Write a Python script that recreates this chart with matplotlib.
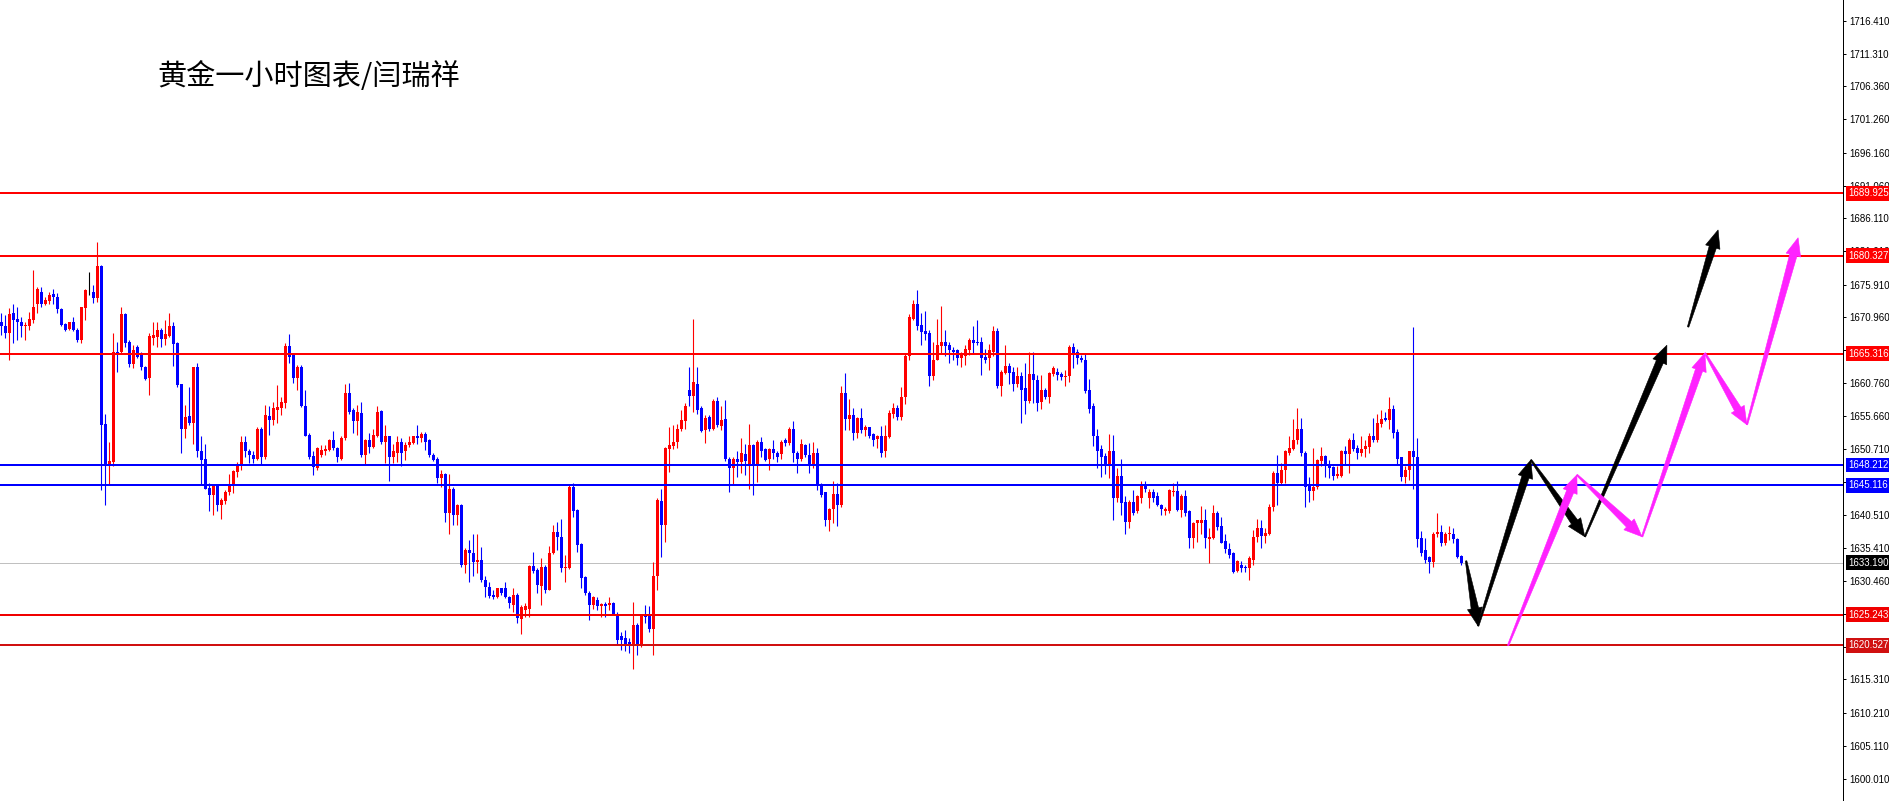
"""
Gold 1-hour candlestick chart with horizontal support / resistance levels
and two hand-drawn projected paths (black and magenta arrows).
"""
import numpy as np
import matplotlib
matplotlib.use("Agg")
import matplotlib.pyplot as plt
import matplotlib.transforms as mtransforms
from matplotlib.patches import Polygon

W_PX, H_PX, DPI = 1890, 801, 100
AXIS_RIGHT_PX = 1843          # price axis line
BAR_PX = 4                    # horizontal pitch of one candle

TITLE = "黄金一小时图表/闫瑞祥"

# hourly candles (oldest first)
OPENS = [
    1670.2, 1669.6, 1668.4, 1671.5, 1670.7, 1670.1, 1669.5, 1669.6, 1670.5, 1673.0,
    1674.8, 1672.9, 1673.4, 1674.5, 1674.0, 1672.1, 1669.9, 1669.1, 1670.1, 1668.9,
    1667.4, 1672.3, 1674.7, 1674.8, 1673.9, 1678.8, 1654.5, 1648.2, 1648.6, 1665.6,
    1665.6, 1671.4, 1667.1, 1663.7, 1666.4, 1665.4, 1663.3, 1661.5, 1667.7, 1667.9,
    1668.9, 1667.5, 1668.0, 1669.6, 1666.9, 1660.6, 1653.8, 1655.7, 1654.6, 1663.2,
    1650.4, 1649.1, 1644.7, 1643.6, 1645.0, 1642.1, 1642.7, 1644.0, 1645.1, 1647.2,
    1648.0, 1651.8, 1650.3, 1649.7, 1649.2, 1653.8, 1649.5, 1655.7, 1655.1, 1656.7,
    1656.9, 1657.8, 1666.5, 1665.1, 1661.5, 1663.3, 1657.3, 1652.8, 1649.6, 1647.7,
    1649.7, 1650.3, 1650.5, 1652.1, 1650.9, 1649.2, 1652.3, 1659.3, 1656.7, 1654.9,
    1656.2, 1649.7, 1652.0, 1651.0, 1652.7, 1656.5, 1651.8, 1652.6, 1649.5, 1650.1,
    1651.8, 1650.3, 1651.3, 1651.6, 1652.6, 1652.3, 1653.0, 1652.0, 1649.7, 1649.1,
    1646.2, 1646.8, 1640.8, 1644.6, 1640.5, 1642.1, 1632.9, 1635.2, 1634.7, 1633.4,
    1633.7, 1630.6, 1629.5, 1628.3, 1628.0, 1629.3, 1629.3, 1627.9, 1626.7, 1628.3,
    1624.5, 1625.9, 1626.1, 1632.7, 1632.1, 1629.6, 1632.6, 1629.0, 1634.7, 1638.0,
    1637.2, 1632.4, 1632.4, 1644.8, 1641.3, 1636.1, 1631.0, 1628.6, 1626.7, 1627.5,
    1626.5, 1626.9, 1626.7, 1627.0, 1625.4, 1621.9, 1621.6, 1621.1, 1620.7, 1623.7,
    1620.4, 1625.2, 1625.2, 1623.0, 1631.1, 1642.7, 1639.0, 1650.6, 1651.1, 1651.8,
    1653.7, 1655.0, 1659.7, 1658.8, 1660.6, 1656.9, 1653.6, 1655.6, 1653.7, 1658.1,
    1654.2, 1655.2, 1649.2, 1647.7, 1649.2, 1648.6, 1649.9, 1648.1, 1651.3, 1648.1,
    1651.8, 1650.6, 1649.1, 1650.6, 1650.1, 1649.9, 1652.0, 1651.6, 1653.7, 1650.1,
    1649.1, 1651.3, 1649.7, 1648.1, 1650.1, 1645.1, 1644.0, 1639.8, 1641.4, 1643.8,
    1642.1, 1659.2, 1655.2, 1655.9, 1653.1, 1655.4, 1653.6, 1654.0, 1653.0, 1652.2,
    1652.7, 1650.3, 1652.5, 1656.1, 1656.9, 1655.6, 1658.6, 1664.9, 1670.7, 1672.9,
    1669.7, 1668.8, 1668.5, 1661.9, 1664.3, 1666.5, 1667.1, 1666.6, 1665.9, 1665.8,
    1664.6, 1664.9, 1665.9, 1667.4, 1667.1, 1667.1, 1664.8, 1664.6, 1665.6, 1668.8,
    1660.3, 1662.4, 1663.4, 1662.5, 1660.7, 1661.9, 1660.0, 1658.1, 1662.2, 1661.3,
    1657.9, 1659.8, 1658.6, 1662.2, 1662.5, 1662.2, 1661.7, 1661.8, 1666.4, 1665.5,
    1664.6, 1664.4, 1659.7, 1657.3, 1652.6, 1650.6, 1649.6, 1648.4, 1650.3, 1643.1,
    1646.5, 1642.6, 1639.4, 1642.6, 1641.1, 1643.2, 1645.0, 1643.1, 1644.1, 1643.4,
    1642.1, 1641.2, 1641.2, 1644.1, 1644.3, 1641.3, 1643.5, 1641.1, 1637.0, 1639.3,
    1639.3, 1639.7, 1636.8, 1637.0, 1640.9, 1638.8, 1636.6, 1635.3, 1634.7, 1632.0,
    1632.9, 1632.6, 1632.4, 1633.7, 1637.1, 1638.5, 1637.3, 1637.7, 1641.7, 1647.0,
    1645.4, 1647.4, 1650.0, 1650.6, 1652.0, 1653.8, 1650.0, 1645.0, 1644.3, 1644.8,
    1648.9, 1649.6, 1648.2, 1647.9, 1646.5, 1646.5, 1650.3, 1649.9, 1652.0, 1650.8,
    1650.0, 1650.6, 1651.0, 1652.7, 1652.1, 1654.5, 1655.4, 1655.1, 1656.8, 1653.3,
    1649.4, 1646.3, 1647.4, 1650.3, 1649.5, 1637.0, 1635.2, 1634.1, 1633.4, 1637.6,
    1638.0, 1636.2, 1637.6, 1637.7, 1636.8, 1634.2,
]
CLOSES = [
    1669.5, 1668.4, 1671.4, 1670.5, 1670.1, 1669.5, 1669.7, 1670.6, 1672.5, 1675.2,
    1673.0, 1673.5, 1674.3, 1674.0, 1672.1, 1669.7, 1669.0, 1670.1, 1668.9, 1667.4,
    1672.4, 1675.0, 1674.7, 1673.8, 1678.8, 1654.4, 1648.2, 1648.9, 1665.6, 1665.4,
    1671.4, 1666.9, 1663.7, 1665.9, 1664.8, 1663.3, 1661.4, 1668.0, 1668.2, 1668.9,
    1667.5, 1668.3, 1669.6, 1666.8, 1660.5, 1653.8, 1655.6, 1654.6, 1663.2, 1650.4,
    1649.0, 1644.6, 1643.6, 1645.0, 1642.1, 1642.8, 1644.1, 1645.1, 1647.3, 1648.2,
    1651.8, 1650.3, 1649.7, 1649.2, 1653.8, 1649.5, 1655.9, 1655.1, 1656.9, 1657.1,
    1657.9, 1666.5, 1664.8, 1661.5, 1663.3, 1657.2, 1652.7, 1649.5, 1647.9, 1650.8,
    1650.5, 1650.6, 1652.1, 1650.8, 1649.4, 1652.3, 1659.2, 1656.4, 1654.9, 1656.4,
    1649.7, 1652.0, 1651.0, 1652.8, 1656.4, 1651.8, 1652.6, 1649.5, 1650.3, 1651.8,
    1650.1, 1651.3, 1651.8, 1652.6, 1652.3, 1653.0, 1651.8, 1649.7, 1649.0, 1646.2,
    1646.9, 1640.8, 1644.6, 1640.5, 1642.1, 1632.9, 1635.2, 1634.7, 1633.4, 1633.6,
    1630.5, 1629.5, 1628.1, 1628.0, 1629.3, 1628.5, 1627.9, 1627.0, 1628.3, 1624.7,
    1626.4, 1626.5, 1632.7, 1632.0, 1629.8, 1632.5, 1629.0, 1634.7, 1638.0, 1637.2,
    1632.4, 1632.5, 1644.9, 1641.1, 1635.9, 1630.8, 1628.5, 1626.7, 1628.0, 1626.5,
    1626.9, 1626.5, 1627.1, 1625.3, 1621.4, 1621.4, 1620.8, 1620.7, 1623.7, 1620.6,
    1625.2, 1624.9, 1623.0, 1631.1, 1642.8, 1639.0, 1650.8, 1651.3, 1651.8, 1653.7,
    1655.1, 1657.3, 1658.8, 1661.0, 1656.7, 1653.5, 1655.5, 1653.7, 1658.1, 1654.4,
    1655.1, 1649.1, 1647.7, 1649.2, 1648.6, 1650.0, 1648.9, 1651.3, 1648.1, 1651.8,
    1650.4, 1649.0, 1650.6, 1650.1, 1649.4, 1651.8, 1651.6, 1653.7, 1650.0, 1649.1,
    1651.4, 1649.7, 1648.1, 1650.1, 1645.1, 1643.6, 1639.8, 1641.4, 1643.8, 1642.1,
    1659.2, 1655.2, 1655.9, 1653.1, 1655.4, 1653.6, 1654.0, 1652.7, 1652.1, 1652.7,
    1650.1, 1652.7, 1656.2, 1656.9, 1655.6, 1658.6, 1664.9, 1671.0, 1672.9, 1669.6,
    1668.7, 1668.3, 1661.9, 1664.3, 1666.6, 1667.1, 1666.5, 1665.8, 1665.6, 1664.6,
    1665.1, 1666.0, 1667.4, 1667.0, 1666.9, 1664.7, 1664.3, 1665.9, 1668.8, 1660.3,
    1662.5, 1663.4, 1662.3, 1660.7, 1661.9, 1659.8, 1658.1, 1662.2, 1661.2, 1657.8,
    1659.8, 1658.6, 1662.3, 1663.1, 1662.0, 1661.7, 1661.9, 1666.4, 1665.3, 1664.6,
    1664.3, 1659.6, 1656.8, 1652.6, 1650.4, 1649.5, 1648.4, 1650.3, 1643.1, 1646.5,
    1642.4, 1639.4, 1642.6, 1640.9, 1643.4, 1645.0, 1644.5, 1644.1, 1643.1, 1642.1,
    1641.4, 1641.4, 1644.4, 1644.3, 1641.3, 1643.5, 1640.9, 1637.0, 1639.3, 1639.7,
    1639.7, 1637.0, 1637.2, 1640.9, 1638.7, 1636.3, 1635.3, 1634.4, 1631.8, 1633.5,
    1632.4, 1632.4, 1633.9, 1637.2, 1638.5, 1637.3, 1637.8, 1641.8, 1647.0, 1645.4,
    1647.5, 1650.3, 1650.8, 1652.1, 1653.8, 1650.0, 1644.9, 1644.3, 1644.9, 1649.0,
    1649.6, 1648.1, 1647.7, 1646.5, 1646.9, 1650.3, 1649.9, 1652.0, 1650.6, 1650.0,
    1650.6, 1651.1, 1652.6, 1652.1, 1654.6, 1655.2, 1655.1, 1656.8, 1653.2, 1649.2,
    1646.3, 1647.5, 1650.3, 1649.4, 1636.8, 1634.7, 1633.7, 1633.4, 1637.7, 1638.0,
    1636.2, 1637.7, 1637.7, 1636.8, 1634.1, 1633.1,
]
HIGHS = [
    1671.5, 1671.2, 1672.3, 1673.0, 1672.5, 1671.0, 1670.2, 1671.7, 1678.2, 1675.6,
    1675.5, 1674.0, 1674.8, 1675.3, 1674.6, 1672.3, 1670.0, 1670.2, 1671.0, 1669.2,
    1672.5, 1675.3, 1677.9, 1675.8, 1682.5, 1678.9, 1656.1, 1651.8, 1668.4, 1667.1,
    1672.5, 1671.5, 1667.4, 1666.6, 1666.6, 1665.6, 1663.4, 1668.4, 1670.1, 1670.2,
    1669.2, 1670.5, 1671.6, 1670.2, 1667.1, 1660.7, 1657.4, 1660.2, 1663.3, 1663.8,
    1652.6, 1651.4, 1645.4, 1645.1, 1645.1, 1643.1, 1644.4, 1646.9, 1647.4, 1648.7,
    1652.6, 1652.6, 1650.6, 1650.3, 1654.1, 1654.0, 1657.4, 1657.2, 1657.9, 1660.5,
    1658.6, 1666.9, 1668.3, 1665.4, 1663.6, 1663.6, 1659.8, 1653.1, 1650.3, 1651.0,
    1651.3, 1651.3, 1652.2, 1653.5, 1651.0, 1652.7, 1660.7, 1660.8, 1656.9, 1657.4,
    1657.9, 1652.2, 1653.1, 1653.8, 1657.3, 1656.7, 1654.4, 1652.7, 1651.5, 1652.6,
    1652.3, 1651.8, 1652.6, 1652.7, 1654.4, 1653.3, 1653.3, 1652.2, 1650.0, 1649.5,
    1647.4, 1647.0, 1646.9, 1644.9, 1642.3, 1642.3, 1635.4, 1636.7, 1637.7, 1637.7,
    1635.7, 1631.1, 1630.2, 1629.0, 1629.4, 1629.3, 1630.2, 1628.1, 1629.3, 1628.5,
    1626.7, 1627.0, 1632.9, 1634.8, 1632.4, 1634.0, 1632.9, 1635.8, 1639.0, 1639.5,
    1640.0, 1634.4, 1645.1, 1645.5, 1641.4, 1636.2, 1631.2, 1628.8, 1628.1, 1627.9,
    1627.1, 1627.2, 1628.0, 1627.2, 1625.7, 1622.6, 1622.9, 1621.6, 1627.2, 1623.9,
    1625.4, 1626.7, 1626.6, 1633.4, 1643.1, 1644.6, 1651.0, 1654.0, 1654.4, 1654.5,
    1656.7, 1657.7, 1663.3, 1670.7, 1663.3, 1657.2, 1655.9, 1655.9, 1658.4, 1658.7,
    1657.2, 1658.2, 1649.5, 1649.5, 1650.3, 1652.3, 1651.4, 1654.5, 1651.5, 1652.0,
    1652.5, 1650.9, 1650.8, 1652.0, 1650.3, 1652.0, 1652.3, 1654.0, 1654.9, 1650.3,
    1652.2, 1651.4, 1651.6, 1651.8, 1650.9, 1645.4, 1644.1, 1641.6, 1645.8, 1645.4,
    1660.3, 1662.3, 1658.3, 1656.9, 1655.6, 1656.9, 1654.4, 1654.1, 1653.2, 1652.8,
    1654.2, 1654.4, 1656.7, 1657.7, 1657.4, 1660.2, 1665.3, 1671.4, 1673.5, 1675.0,
    1671.5, 1671.9, 1668.9, 1667.1, 1670.7, 1672.6, 1668.9, 1667.1, 1666.4, 1666.0,
    1665.5, 1666.6, 1667.7, 1669.5, 1670.5, 1667.9, 1666.0, 1666.8, 1669.6, 1669.2,
    1662.8, 1666.6, 1663.8, 1663.3, 1663.3, 1662.5, 1663.9, 1665.6, 1665.5, 1662.0,
    1662.0, 1660.1, 1662.5, 1663.4, 1663.1, 1662.5, 1662.8, 1666.6, 1667.0, 1666.0,
    1665.1, 1665.3, 1661.4, 1657.7, 1653.7, 1651.3, 1650.0, 1653.0, 1652.8, 1647.7,
    1649.1, 1643.4, 1642.9, 1644.4, 1643.6, 1645.7, 1645.7, 1644.6, 1644.6, 1644.1,
    1642.3, 1641.8, 1644.6, 1645.4, 1645.7, 1643.8, 1644.4, 1641.3, 1639.5, 1639.8,
    1641.9, 1641.4, 1638.5, 1642.1, 1641.1, 1640.3, 1637.7, 1636.2, 1634.8, 1633.7,
    1633.5, 1632.9, 1634.2, 1638.3, 1640.0, 1639.7, 1638.5, 1642.2, 1647.3, 1649.7,
    1648.5, 1650.5, 1652.7, 1655.2, 1656.9, 1655.5, 1650.3, 1646.4, 1650.8, 1649.2,
    1651.0, 1649.7, 1649.0, 1648.1, 1648.0, 1650.5, 1651.1, 1652.3, 1653.1, 1651.3,
    1652.6, 1652.0, 1653.1, 1655.4, 1656.1, 1656.7, 1656.4, 1658.7, 1657.4, 1653.7,
    1649.5, 1648.1, 1650.4, 1669.4, 1652.3, 1638.1, 1637.0, 1634.2, 1638.0, 1640.9,
    1639.0, 1638.0, 1638.8, 1638.5, 1637.0, 1634.4,
]
LOWS = [
    1668.2, 1667.7, 1664.3, 1667.0, 1667.4, 1667.9, 1667.4, 1668.9, 1670.0, 1671.5,
    1672.4, 1672.8, 1673.0, 1673.0, 1671.5, 1669.6, 1668.8, 1668.9, 1668.8, 1667.1,
    1666.9, 1670.5, 1674.3, 1673.1, 1673.3, 1644.4, 1642.1, 1645.1, 1648.0, 1662.5,
    1665.4, 1666.4, 1663.3, 1663.1, 1664.6, 1662.8, 1661.3, 1659.0, 1666.6, 1666.4,
    1666.4, 1666.6, 1667.9, 1663.4, 1660.2, 1650.0, 1652.3, 1654.4, 1651.5, 1649.5,
    1645.1, 1644.6, 1641.1, 1640.5, 1641.1, 1640.0, 1642.3, 1643.6, 1643.9, 1646.4,
    1647.4, 1649.5, 1648.5, 1648.5, 1649.0, 1648.4, 1649.2, 1652.8, 1654.4, 1654.6,
    1655.9, 1656.9, 1663.8, 1660.8, 1659.7, 1657.1, 1652.6, 1649.2, 1646.7, 1647.5,
    1649.5, 1649.7, 1650.3, 1650.5, 1648.7, 1649.0, 1652.1, 1656.1, 1653.1, 1652.8,
    1649.5, 1648.4, 1650.0, 1650.8, 1652.5, 1651.5, 1648.5, 1645.7, 1648.5, 1648.6,
    1648.0, 1649.0, 1651.0, 1651.4, 1651.5, 1651.8, 1650.5, 1649.5, 1648.9, 1645.4,
    1644.9, 1639.5, 1637.6, 1639.0, 1639.0, 1632.6, 1631.7, 1630.2, 1631.1, 1631.6,
    1630.3, 1628.0, 1627.8, 1627.6, 1627.8, 1628.3, 1627.8, 1626.2, 1625.7, 1623.9,
    1622.3, 1624.9, 1624.9, 1631.7, 1628.5, 1626.7, 1628.5, 1629.0, 1634.5, 1635.2,
    1631.8, 1630.3, 1632.2, 1640.3, 1634.9, 1629.4, 1628.3, 1624.4, 1626.1, 1625.9,
    1624.9, 1624.9, 1625.9, 1625.2, 1620.6, 1619.8, 1619.6, 1619.3, 1616.9, 1619.1,
    1620.3, 1623.9, 1622.6, 1619.1, 1629.1, 1634.1, 1636.4, 1647.2, 1650.6, 1650.8,
    1653.5, 1653.7, 1657.2, 1656.4, 1656.1, 1653.3, 1651.6, 1653.5, 1653.6, 1654.0,
    1653.6, 1648.9, 1644.1, 1645.3, 1646.4, 1647.0, 1646.7, 1644.6, 1643.6, 1645.6,
    1649.5, 1648.9, 1647.5, 1649.1, 1648.7, 1649.2, 1651.1, 1651.3, 1648.6, 1647.0,
    1648.9, 1649.5, 1647.0, 1647.7, 1644.4, 1643.3, 1638.8, 1638.1, 1639.3, 1638.8,
    1641.8, 1653.6, 1653.6, 1652.0, 1652.3, 1653.2, 1652.6, 1652.3, 1651.1, 1650.8,
    1649.5, 1649.5, 1652.3, 1655.4, 1655.1, 1655.1, 1657.6, 1664.3, 1670.5, 1668.9,
    1666.6, 1667.4, 1660.3, 1661.3, 1664.3, 1665.4, 1664.9, 1663.9, 1664.3, 1663.6,
    1663.2, 1663.6, 1665.1, 1665.4, 1666.6, 1662.0, 1663.9, 1662.8, 1664.9, 1660.1,
    1658.8, 1662.2, 1660.7, 1659.6, 1660.2, 1654.7, 1656.1, 1657.8, 1657.8, 1656.5,
    1656.8, 1658.3, 1657.8, 1661.9, 1661.2, 1661.3, 1660.3, 1661.0, 1663.1, 1663.7,
    1664.1, 1659.2, 1656.2, 1651.1, 1647.7, 1646.3, 1646.9, 1646.2, 1639.8, 1642.6,
    1640.5, 1637.7, 1638.6, 1640.5, 1640.8, 1642.4, 1644.1, 1641.6, 1642.6, 1641.9,
    1640.5, 1640.5, 1640.9, 1643.5, 1641.1, 1640.3, 1640.4, 1635.4, 1635.4, 1636.4,
    1637.7, 1635.4, 1633.2, 1636.8, 1638.2, 1636.2, 1634.7, 1633.9, 1631.6, 1631.8,
    1631.8, 1631.8, 1630.5, 1632.9, 1636.4, 1635.4, 1636.3, 1637.5, 1641.2, 1642.1,
    1645.1, 1645.4, 1649.7, 1650.5, 1651.5, 1649.6, 1641.8, 1642.6, 1642.8, 1644.6,
    1648.0, 1646.4, 1646.2, 1645.9, 1646.2, 1646.3, 1648.2, 1647.0, 1650.3, 1649.2,
    1649.6, 1649.5, 1650.0, 1651.8, 1651.8, 1654.1, 1654.9, 1653.7, 1652.3, 1648.2,
    1645.7, 1645.4, 1645.9, 1644.5, 1635.6, 1634.2, 1633.1, 1631.6, 1632.6, 1637.2,
    1635.8, 1635.9, 1636.7, 1636.3, 1634.0, 1632.9,
]

RED_LEVELS = [1689.925, 1680.327, 1665.316, 1625.243, 1620.527]
RED_COLORS = ["#ff0000", "#ff0000", "#ff0000", "#f00000", "#d01010"]
BLUE_LEVELS = [1648.212, 1645.116]
LAST_PRICE = 1633.190

TICK_VALUES = [1716.410, 1711.310, 1706.360, 1701.260, 1696.160, 1691.060,
               1686.110, 1681.010, 1675.910, 1670.960, 1665.860, 1660.760,
               1655.660, 1650.710, 1645.610, 1640.510, 1635.410, 1630.460,
               1625.360, 1620.260, 1615.310, 1610.210, 1605.110, 1600.010]

# projected paths: (bar index, price) corner points, arrow head at each end
BLACK_PATH = [(366.2, 1633.5), (369.2, 1623.5), (382.4, 1649.0),
              (395.9, 1637.2), (416.4, 1666.6)]
BLACK_TAIL = [(421.7, 1669.4), (429.2, 1684.3)]
MAGENTA_PATH = [(376.7, 1620.5), (393.9, 1646.7), (410.2, 1637.2),
                (425.9, 1665.4), (436.4, 1654.4), (449.2, 1683.1)]

Y_MIN, Y_MAX = 1596.64, 1719.59
X_MIN = -0.325
X_MAX = X_MIN + AXIS_RIGHT_PX / BAR_PX

UP, DOWN, FLAT = "#ff0000", "#0000ff", "#000000"
PX = 72.0 / DPI   # one pixel in points
LABEL_FONT = ["Liberation Sans", "DejaVu Sans"]
LABEL_SIZE = 7


def tapered_arrow(ax, p0, p1, color, tail_w=1.5, neck_w=7.5,
                  head_w=15.0, head_len=18.0):
    """Filled arrow that widens from tail to head, built in pixel space."""
    tr = ax.transData
    a = np.asarray(tr.transform(p0))
    b = np.asarray(tr.transform(p1))
    d = b - a
    u = d / np.hypot(*d)
    n = np.array([-u[1], u[0]])
    q = b - u * head_len
    pts = [a + n * tail_w / 2, q + n * neck_w / 2, q + n * head_w / 2, b,
           q - n * head_w / 2, q - n * neck_w / 2, a - n * tail_w / 2]
    ax.add_patch(Polygon(tr.inverted().transform(pts), closed=True,
                         fc=color, ec=color, lw=0.4, zorder=8))


def main():
    fig = plt.figure(figsize=(W_PX / DPI, H_PX / DPI), dpi=DPI)
    fig.patch.set_facecolor("white")
    ax = fig.add_axes([0, 0, AXIS_RIGHT_PX / W_PX, 1])
    ax.set_xlim(X_MIN, X_MAX)
    ax.set_ylim(Y_MIN, Y_MAX)

    o = np.array(OPENS)
    c = np.array(CLOSES)
    h = np.maximum(np.array(HIGHS), np.maximum(o, c))
    lo = np.minimum(np.array(LOWS), np.minimum(o, c))
    x = np.arange(len(o))
    colors = np.where(c > o, UP, np.where(c < o, DOWN, FLAT))

    ax.vlines(x, lo, h, colors=colors, linewidth=1.1 * PX, zorder=2)
    body = np.maximum(np.abs(c - o), 0.14)
    ax.bar(x, body, bottom=np.minimum(o, c), width=0.62, color=colors,
           linewidth=0, zorder=2)

    # levels
    for lvl, col in zip(RED_LEVELS, RED_COLORS):
        ax.axhline(lvl, color=col, lw=2 * PX, zorder=3)
    for lvl in BLUE_LEVELS:
        ax.axhline(lvl, color="#0000ff", lw=2 * PX, zorder=3)
    ax.axhline(LAST_PRICE, color="#c0c0c0", lw=1 * PX, zorder=1)

    # price axis on the right
    for side in ("top", "left", "bottom"):
        ax.spines[side].set_visible(False)
    ax.spines["right"].set_color("black")
    ax.spines["right"].set_linewidth(1 * PX)
    ax.set_xticks([])
    ax.yaxis.tick_right()
    ax.set_yticks(TICK_VALUES)
    ax.set_yticklabels([f"{v:.3f}" for v in TICK_VALUES])
    ax.tick_params(axis="y", length=3 * PX, width=1 * PX, pad=3 * PX,
                   labelsize=LABEL_SIZE, colors="black")
    for lab in ax.get_yticklabels():
        lab.set_family(LABEL_FONT)

    # boxed level labels
    lbl_tr = mtransforms.blended_transform_factory(ax.transAxes, ax.transData)
    x_lbl = 1 + 5 / AXIS_RIGHT_PX
    boxed = ([(v, col) for v, col in zip(RED_LEVELS, RED_COLORS)]
             + [(v, "#0000ff") for v in BLUE_LEVELS]
             + [(LAST_PRICE, "#000000")])
    for v, col in boxed:
        ax.text(x_lbl, v, f"{v:.3f}", transform=lbl_tr, ha="left",
                va="center", fontsize=LABEL_SIZE, color="white",
                family=LABEL_FONT, clip_on=False, zorder=9,
                bbox=dict(boxstyle="square,pad=0.25", fc=col, ec="none"))

    # projected paths
    for p0, p1 in zip(BLACK_PATH[:-1], BLACK_PATH[1:]):
        tapered_arrow(ax, p0, p1, "#000000")
    tapered_arrow(ax, BLACK_TAIL[0], BLACK_TAIL[1], "#000000")
    for p0, p1 in zip(MAGENTA_PATH[:-1], MAGENTA_PATH[1:]):
        tapered_arrow(ax, p0, p1, "#ff22ff")

    fig.text(157 / W_PX, 1 - 77 / H_PX, TITLE, fontsize=21, color="black",
             ha="left", va="center", family=["Noto Sans CJK SC", "DejaVu Sans"])

    fig.savefig("out.png", dpi=DPI, facecolor="white")
    plt.close(fig)


if __name__ == "__main__":
    main()
